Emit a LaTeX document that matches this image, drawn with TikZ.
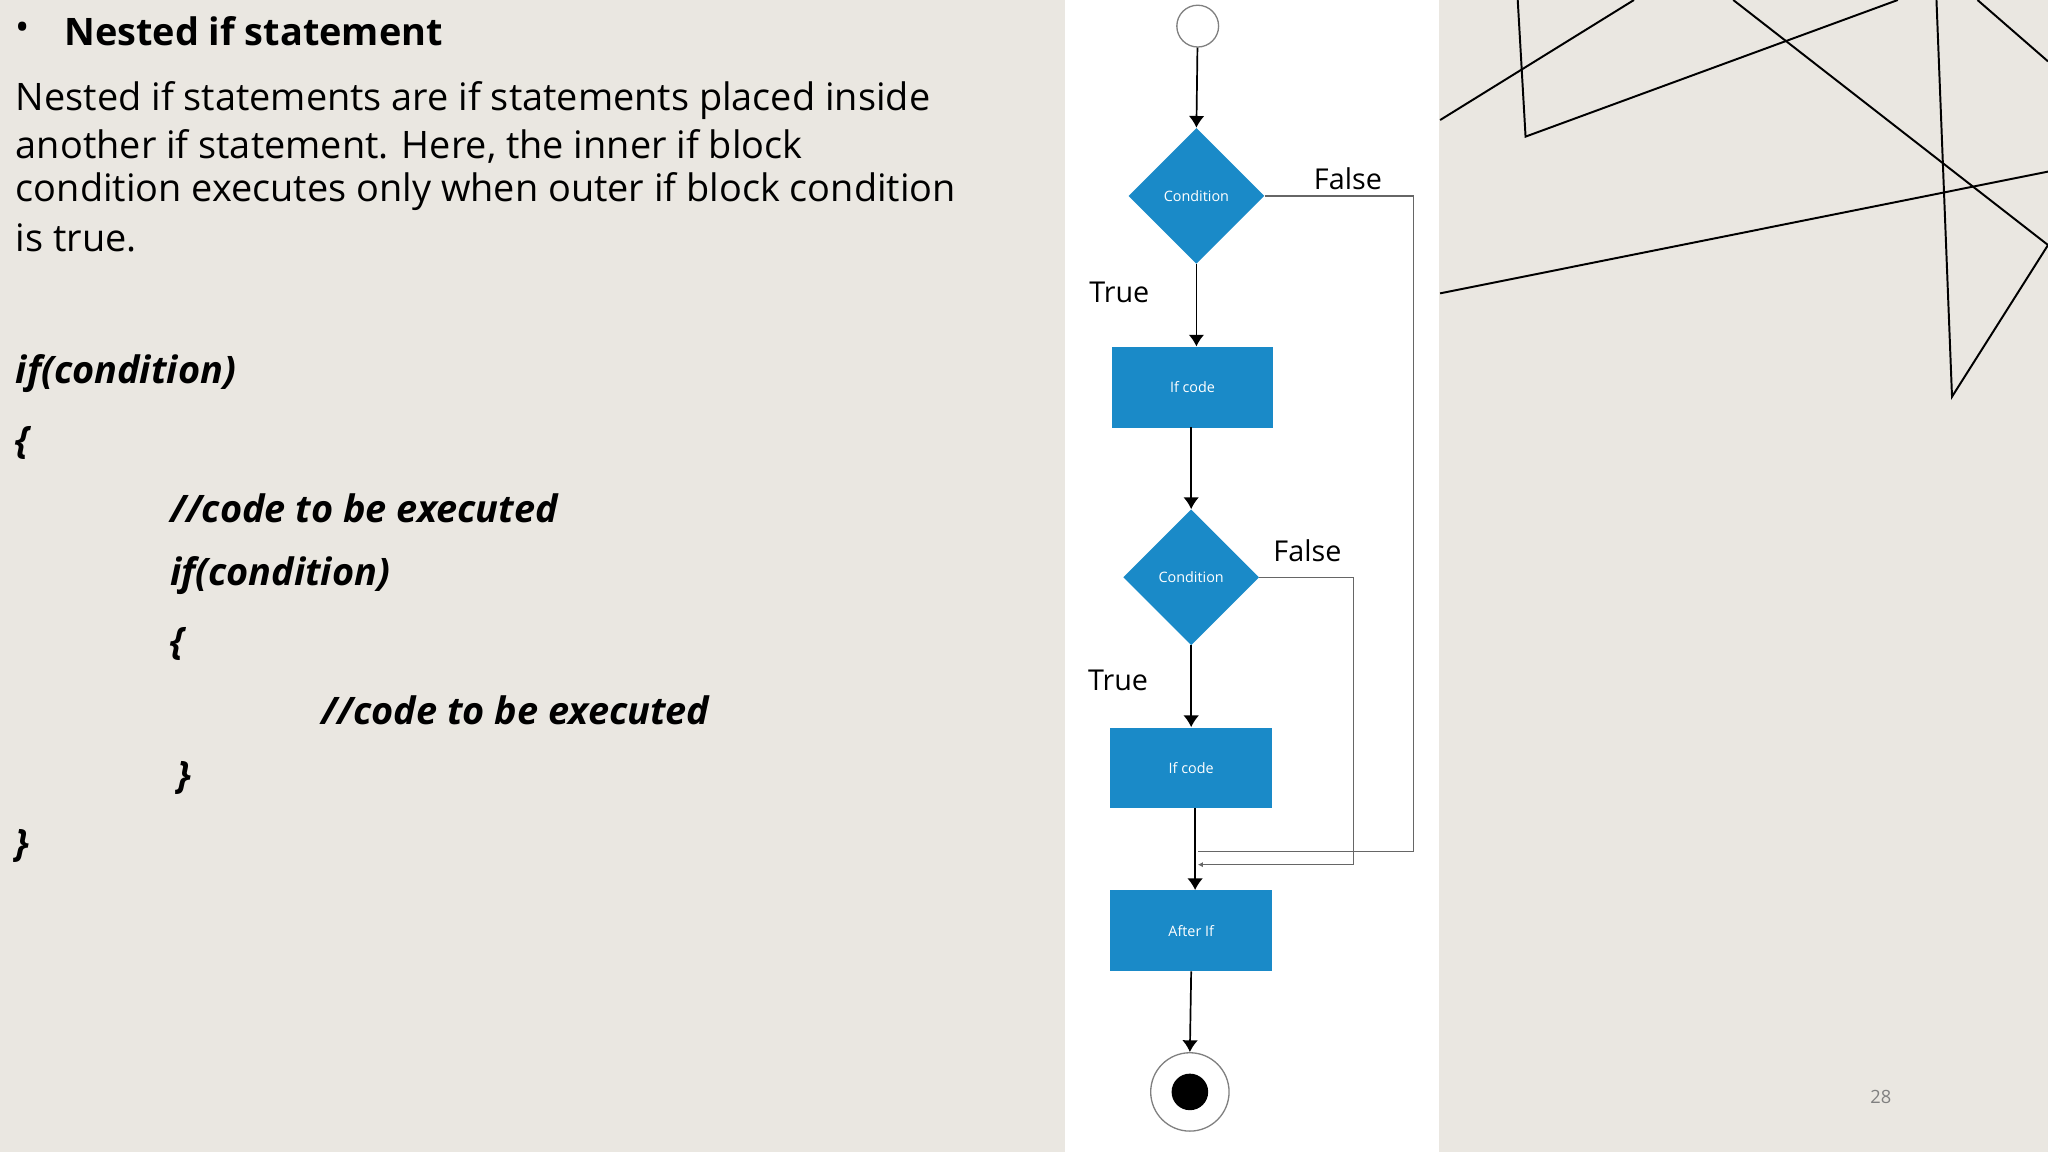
\documentclass[tikz,border=0pt]{standalone}
\usepackage{fontspec}
\setmainfont{Open Sans}
\usetikzlibrary{shapes.geometric,arrows.meta}
\definecolor{bg}{HTML}{EAE7E1}
\definecolor{fcblue}{HTML}{1A8AC8}
\begin{document}
\begin{tikzpicture}[x=1pt,y=-1pt,
  txt/.style={anchor=west,inner sep=0pt,font=\fontsize{29}{35}\selectfont},
  code/.style={anchor=west,inner sep=0pt,font=\fontsize{29}{35}\selectfont\bfseries\itshape},
  fbox/.style={fill=fcblue,minimum width=124pt,minimum height=62pt,inner sep=0pt,text=white,font=\fontsize{11}{12}\selectfont},
  fdia/.style={diamond,fill=fcblue,minimum width=104pt,minimum height=104pt,inner sep=0pt,aspect=1,text=white,font=\fontsize{11}{12}\selectfont},
  lbl/.style={inner sep=0pt,font=\fontsize{22}{24}\selectfont},
  arr/.style={-{Latex[length=9pt,width=12pt]},line width=1.3pt},
  fl/.style={draw=gray!80!black,line width=1pt},
  deco/.style={line width=1.5pt,black}]
\fill[bg] (0,0) rectangle (1568,882);
\useasboundingbox (0,0) rectangle (1568,882);
\fill[white] (815,0) rectangle (1102,882);
% decorative lines
\draw[deco] (1102.6,91.9) -- (1251,0);
\draw[deco] (1162,0) -- (1168,104.6) -- (1453,0);
\draw[deco] (1327,0) -- (1568,187.6);
\draw[deco] (1482.6,0) -- (1494.5,303.7) -- (1568,187.6);
\draw[deco] (1102.6,224.6) -- (1568,131.4);
\draw[deco] (1514,0) -- (1568,47);
% left text
\node[txt] (bul) at (12,24) {•};
\node[txt,font=\fontsize{29}{35}\selectfont\bfseries] (head) at (49,24) {Nested if statement};
\node[txt] (p1) at (12,77) {Nested if statements are if statements placed inside};
\node[txt] (p2) at (12,112) {another if statement. Here, the inner if block};
\node[txt] (p3) at (12,147) {condition executes only when outer if block condition};
\node[txt] (p4) at (12,182) {is true.};
\node[code] (c1) at (12,286) {if(condition)};
\node[code] (c2) at (12,339) {\{};
\node[code] (c3) at (130,389) {//code to be executed};
\node[code] (c4) at (130,441) {if(condition)};
\node[code] (c5) at (130,493) {\{};
\node[code] (c6) at (246,544) {//code to be executed};
\node[code] (c7) at (136,596) {\}};
\node[code] (c8) at (12,648) {\}};
\node[inner sep=0pt,text=gray,font=\fontsize{14}{16}\selectfont] (pg) at (1440,840) {28};
% flowchart
\node[circle,draw=gray,line width=1pt,fill=white,minimum size=32pt,inner sep=0pt] (start) at (917,20) {};
\node[fdia] (d1) at (916,150) {Condition};
\node[fbox] (b1) at (913,296.5) {If code};
\node[fdia] (d2) at (912,442) {Condition};
\node[fbox] (b2) at (912,588) {If code};
\node[fbox] (b3) at (912,712.5) {After If};
\node[circle,draw=gray,line width=1pt,fill=white,minimum size=60pt,inner sep=0pt] (end) at (911,836) {};
\node[circle,fill=black,minimum size=28pt,inner sep=0pt] (endin) at (end) {};
\node[lbl] (f1) at (1032,137) {False};
\node[lbl] (t1) at (857,224) {True};
\node[lbl] (f2) at (1001,422) {False};
\node[lbl] (t2) at (856,521) {True};
\draw[arr] (start) -- (d1.north);
\draw[arr] (d1.south) -- (d1.south |- b1.north);
\draw[arr] (912,327) -- (d2.north);
\draw[arr] (d2.south) -- (b2.north);
\coordinate (m1) at (917,652);
\coordinate (m2) at (917,662);
\draw[arr] (915,619) -- (915,681.5);
\draw[arr] (b3.south) -- (end.north);
\draw[fl] (d1.east) -- (1082,150) -- (1082,652) -- (m1);
\draw[fl,-{Latex[length=4pt,width=4pt]}] (d2.east) -- (1036,442) -- (1036,662) -- (m2);
\end{tikzpicture}
\end{document}
